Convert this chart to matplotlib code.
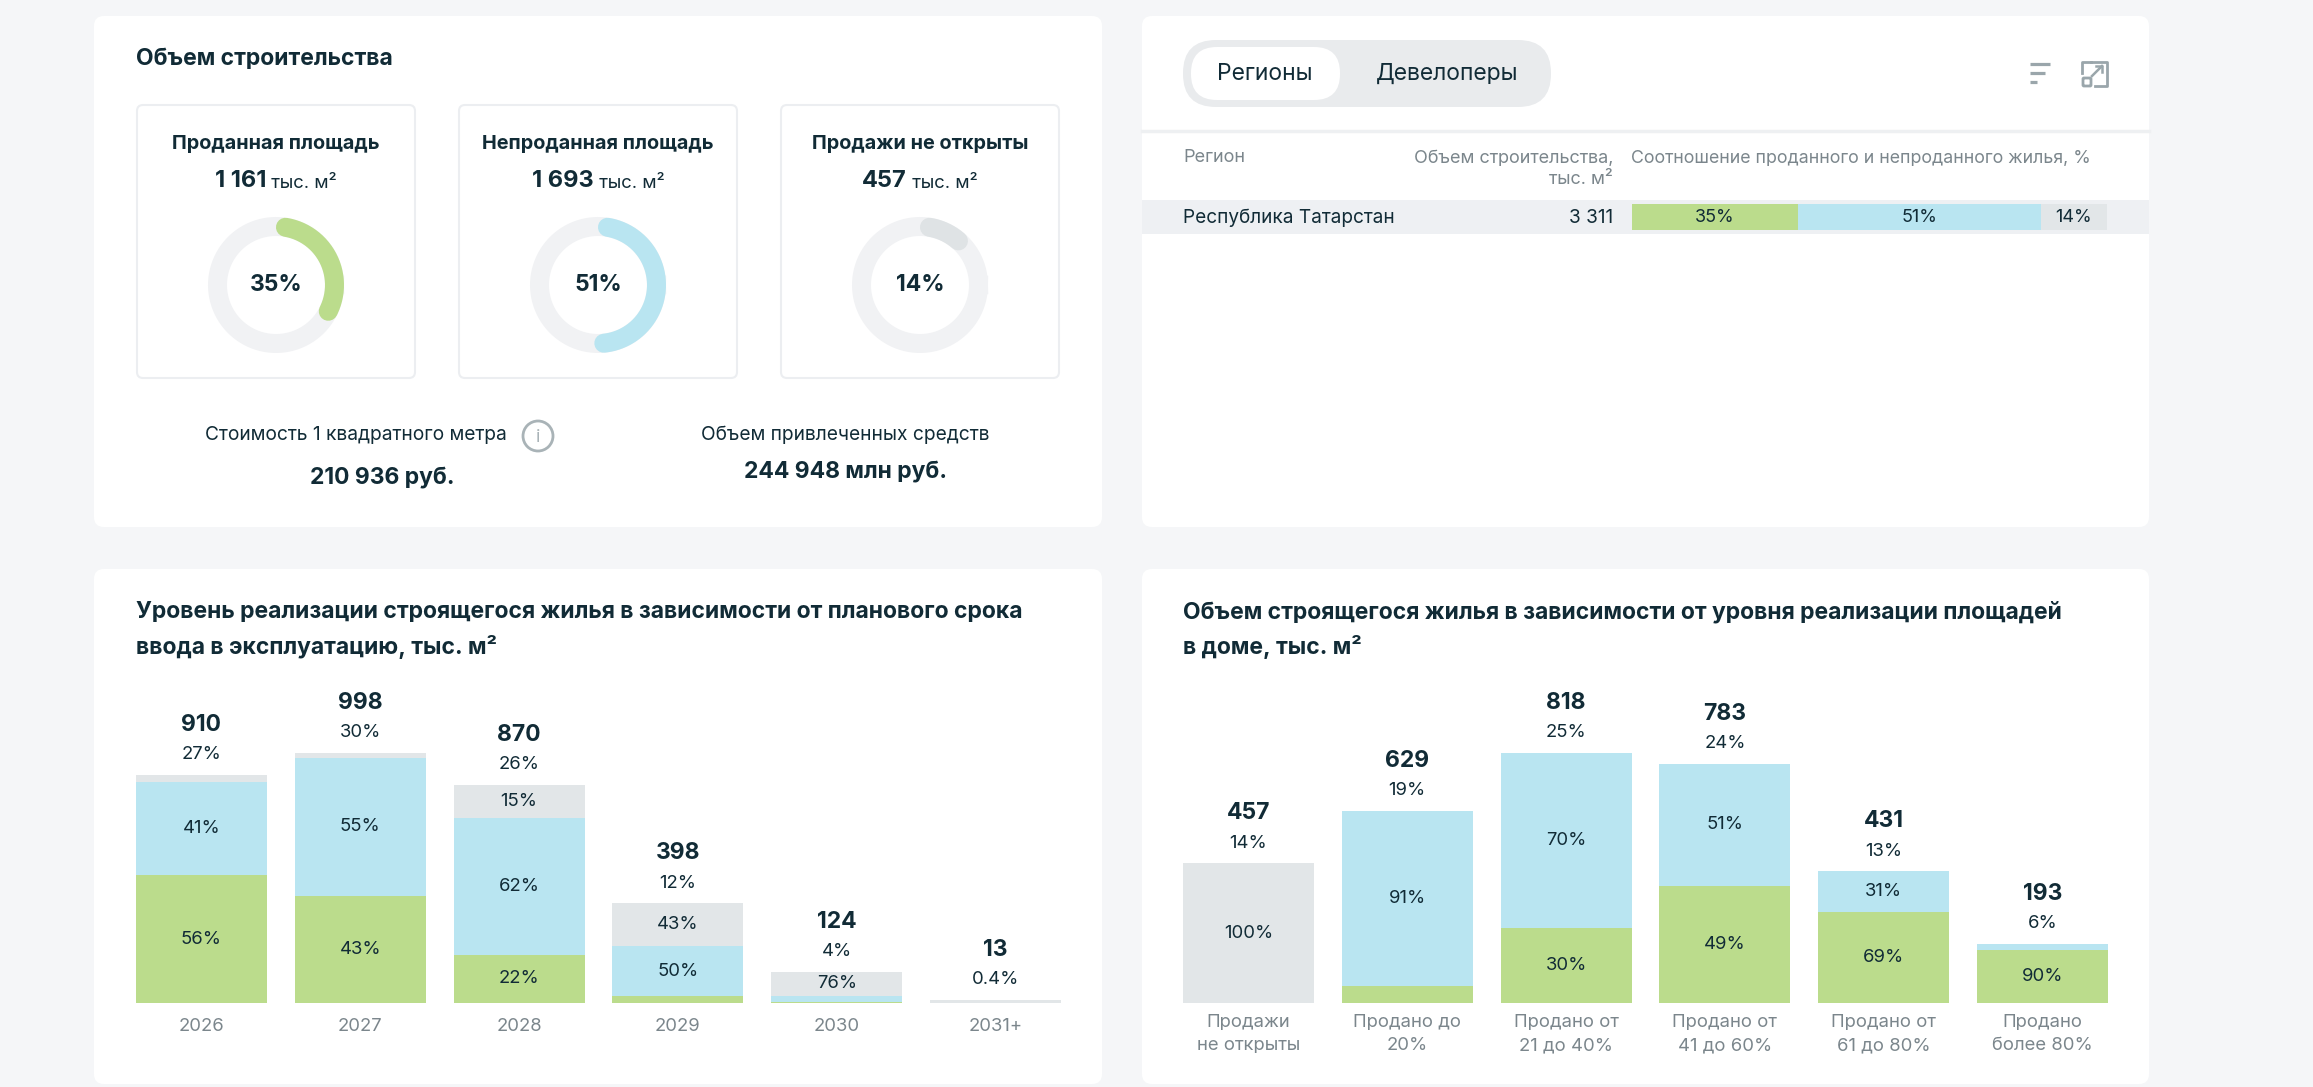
import matplotlib
matplotlib.use("Agg")
import matplotlib.pyplot as plt
from matplotlib.patches import FancyBboxPatch, Circle
import numpy as np

plt.rcParams['font.family'] = ['Inter', 'DejaVu Sans']

W, H = 2313, 1087
DARK = '#112b36'
GREY_TXT = '#7b868c'
GREEN = '#bbdc8c'
BLUE = '#b9e5f1'
LGREY = '#e2e6e8'
RING = '#f1f2f4'
BG = '#f5f6f8'

# --- data ---
donut_titles = ["Проданная площадь", "Непроданная площадь", "Продажи не открыты"]
donut_values = ["1 161", "1 693", "457"]
donut_pcts = [35, 51, 14]

price_label = "Стоимость 1 квадратного метра"
price_value = "210 936 руб."
funds_label = "Объем привлеченных средств"
funds_value = "244 948 млн руб."

region_names = ["Республика Татарстан"]
region_volume = ["3 311"]
region_split = [35, 51, 14]

years = ["2026", "2027", "2028", "2029", "2030", "2031+"]
year_totals = [910, 998, 870, 398, 124, 13]
year_shares = ["27%", "30%", "26%", "12%", "4%", "0.4%"]
year_sold = [56, 43, 22, 7, 2, 0]
year_unsold = [41, 55, 62, 50, 22, 0]
year_closed = [3, 2, 15, 43, 76, 100]

levels = ["Продажи\nне открыты", "Продано до\n20%", "Продано от\n21 до 40%",
          "Продано от\n41 до 60%", "Продано от\n61 до 80%", "Продано\nболее 80%"]
level_totals = [457, 629, 818, 783, 431, 193]
level_shares = ["14%", "19%", "25%", "24%", "13%", "6%"]
level_sold = [0, 9, 30, 49, 69, 90]
level_unsold = [0, 91, 70, 51, 31, 10]
level_closed = [100, 0, 0, 0, 0, 0]

fig = plt.figure(figsize=(W / 100, H / 100), dpi=100)
fig.patch.set_facecolor(BG)
base = fig.add_axes([0, 0, 1, 1])
base.set_xlim(0, W)
base.set_ylim(H, 0)
base.axis('off')


def ax_px(x0, y0, x1, y1):
    a = fig.add_axes([x0 / W, 1 - y1 / H, (x1 - x0) / W, (y1 - y0) / H])
    a.patch.set_alpha(0)
    return a


def card(x0, y0, x1, y1, r=10, fc='white', ec='none', lw=0):
    base.add_patch(FancyBboxPatch((x0, y0), x1 - x0, y1 - y0,
                                  boxstyle=f"round,pad=0,rounding_size={r}",
                                  fc=fc, ec=ec, lw=lw))


def txt(x, y, s, size=13, weight='normal', color=DARK, ha='center', va='center'):
    return base.text(x, y, s, fontsize=size, fontweight=weight, color=color, ha=ha, va=va)


card(94, 16, 1102, 527)
card(1142, 16, 2149, 527)
card(94, 569, 1102, 1084)
card(1142, 569, 2149, 1084)

# --- card 1: volume with donuts ---
txt(136, 59, "Объем строительства", 16.5, 'bold', ha='left')
renderer = fig.canvas.get_renderer()
for i, cx in enumerate([276, 598, 920]):
    card(cx - 139, 105, cx + 139, 378, r=6, ec='#eceef1', lw=1.5)
    txt(cx, 144, donut_titles[i], 14.3, 'bold')
    t1 = txt(cx, 181, donut_values[i], 17, 'bold', ha='left')
    t2 = txt(cx, 183, " тыс. м²", 13.3, ha='left')
    w1 = t1.get_window_extent(renderer).width
    w2 = t2.get_window_extent(renderer).width
    start = cx - (w1 + w2) / 2
    t1.set_x(start)
    t2.set_x(start + w1)

    ax = ax_px(cx - 85, 200, cx + 85, 370)
    ax.set_xlim(-85, 85)
    ax.set_ylim(-85, 85)
    ax.axis('off')
    r = 58.5
    th = np.linspace(0, 2 * np.pi, 400)
    ax.plot(r * np.cos(th), r * np.sin(th), color=RING, lw=19 * 0.72)
    cap = 9.5 / r
    th = np.linspace(np.pi / 2 - cap, np.pi / 2 - 2 * np.pi * donut_pcts[i] / 100 + cap, 200)
    col = [GREEN, BLUE, '#dfe3e5'][i]
    ax.plot(r * np.cos(th), r * np.sin(th), color=col, lw=19 * 0.72, solid_capstyle='round')
    ax.text(0, 0, f"{donut_pcts[i]}%", fontsize=16.5, fontweight='bold', color=DARK,
            ha='center', va='center')

txt(356, 435, price_label, 13.8)
base.add_patch(Circle((538, 436), 15, fill=False, ec='#a9b3b7', lw=2.0))
txt(538, 437, "i", 13, color='#a9b3b7')
txt(382, 477, price_value, 16.5, 'bold')
txt(845, 435, funds_label, 13.8)
txt(845, 472, funds_value, 16.5, 'bold')

# --- card 2: regions table ---
card(1183, 40, 1551, 107, r=33, fc='#e9ebed')
card(1191, 47, 1340, 100, r=26, fc='white')
txt(1265, 74, "Регионы", 16.5)
txt(1447, 74, "Девелоперы", 16.5)
icon = '#9aa6ab'
for y, x1 in [(64, 2050), (73, 2045), (82, 2037)]:
    base.plot([2030, x1], [y, y], color=icon, lw=2.3, solid_capstyle='butt')
base.plot([2091, 2082, 2082], [62, 62, 73], color=icon, lw=2.0)
base.plot([2091, 2107, 2107, 2095], [62, 62, 86, 86], color=icon, lw=2.0)
base.add_patch(FancyBboxPatch((2083, 78), 8, 8, boxstyle="round,pad=0,rounding_size=1",
                              fill=False, ec=icon, lw=2.0))
base.plot([2092, 2102], [76, 66], color=icon, lw=1.8)
base.plot([2096, 2102, 2102], [66, 66, 72], color=icon, lw=1.8)

base.plot([1142, 2149], [131, 131], color='#eef0f2', lw=2.5)
txt(1183, 158, "Регион", 13, color=GREY_TXT, ha='left')
txt(1613, 158, "Объем строительства,", 13, color=GREY_TXT, ha='right')
txt(1613, 180, "тыс. м²", 13, color=GREY_TXT, ha='right')
txt(1631, 158, "Соотношение проданного и непроданного жилья, %", 12.8, color=GREY_TXT, ha='left')
base.add_patch(plt.Rectangle((1142, 200), 1007, 34, fc='#eef0f3', ec='none'))
txt(1183, 218, region_names[0], 13.7, ha='left')
txt(1613, 218, region_volume[0], 13.7, ha='right')

tab = ax_px(1632, 204, 2107, 230)
left = 0
for v, col in zip(region_split, [GREEN, BLUE, LGREY]):
    tab.barh(0, v, left=left, height=1, color=col, lw=0)
    tab.text(left + v / 2, 0, f"{v}%", fontsize=13, color=DARK, ha='center', va='center')
    left += v
tab.set_xlim(0, sum(region_split))
tab.set_ylim(-0.5, 0.5)
tab.axis('off')

# --- card 3 & 4: stacked bars ---
txt(136, 612, "Уровень реализации строящегося жилья в зависимости от планового срока", 16.5, 'bold', ha='left')
txt(136, 647, "ввода в эксплуатацию, тыс. м²", 16.5, 'bold', ha='left')
txt(1183, 612, "Объем строящегося жилья в зависимости от уровня реализации площадей", 16.5, 'bold', ha='left')
txt(1183, 647, "в доме, тыс. м²", 16.5, 'bold', ha='left')


def stacked(ax, cats, totals, shares, parts, pad):
    x = np.arange(len(cats))
    totals = np.array(totals, dtype=float)
    parts = [np.array(p, dtype=float) for p in parts]
    sums = sum(parts)
    top = totals.max()
    bottom = np.zeros(len(cats))
    for p, col in zip(parts, [GREEN, BLUE, LGREY]):
        h = totals * p / sums
        ax.bar(x, h, bottom=bottom, width=0.824, color=col, lw=0)
        for xi, hi, bi, pi in zip(x, h, bottom, p):
            if hi >= 0.08 * top:
                ax.text(xi, bi + hi / 2, f"{pi:g}%", fontsize=13.3, color=DARK,
                        ha='center', va='center')
        bottom += h
    for xi, ti, si, bi in zip(x, totals, shares, bottom):
        ax.annotate(f"{ti:g}", (xi, bi), xytext=(0, 36), textcoords='offset points',
                    fontsize=16.5, fontweight='bold', color=DARK, ha='center', va='center')
        ax.annotate(si, (xi, bi), xytext=(0, 14.5), textcoords='offset points',
                    fontsize=13.3, color=DARK, ha='center', va='center')
    ax.set_xlim(-0.412, len(cats) - 0.588)
    ax.set_ylim(0, top * 300 / 250)
    ax.set_xticks(x, cats)
    ax.set_yticks([])
    ax.tick_params(axis='x', length=0, pad=pad, labelsize=13.3, labelcolor=GREY_TXT)
    for lab in ax.get_xticklabels():
        lab.set_linespacing(1.45)
    for s in ax.spines.values():
        s.set_visible(False)


ax3 = ax_px(136, 703, 1061, 1003)
stacked(ax3, years, year_totals, year_shares, [year_sold, year_unsold, year_closed], 11)
ax4 = ax_px(1183, 703, 2108, 1003)
stacked(ax4, levels, level_totals, level_shares, [level_sold, level_unsold, level_closed], 8)

fig.savefig("out.png", dpi=100, facecolor=BG)
